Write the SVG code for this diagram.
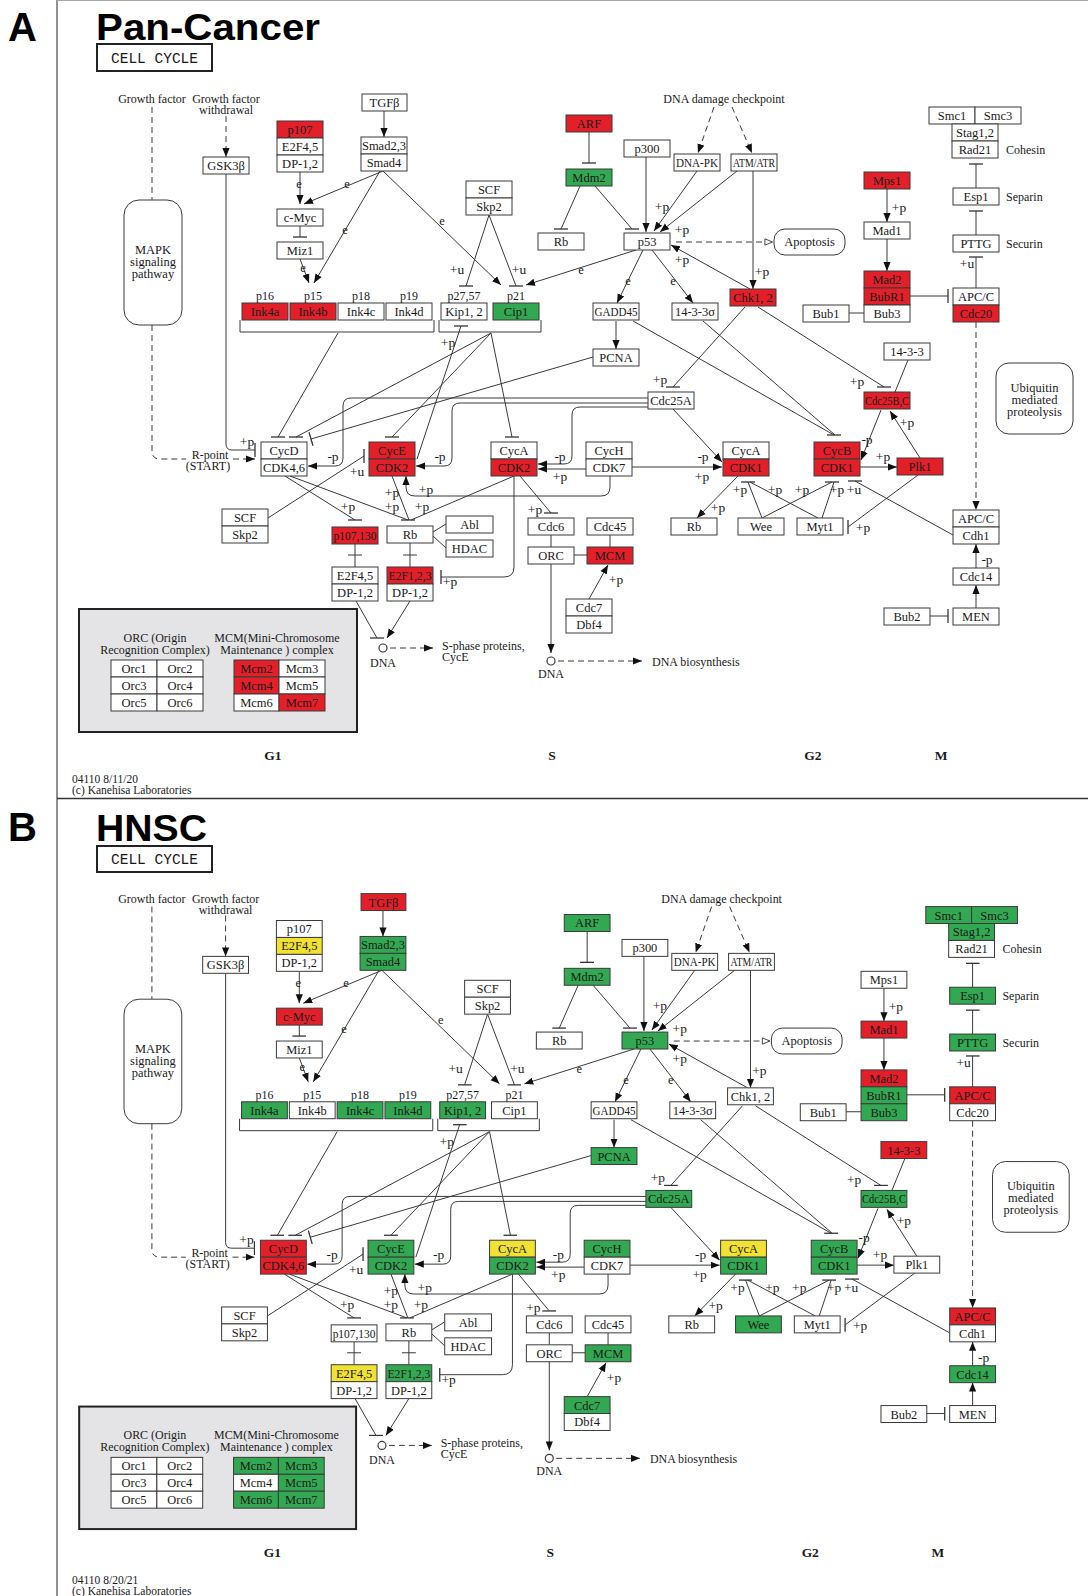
<svg xmlns="http://www.w3.org/2000/svg" xmlns:xlink="http://www.w3.org/1999/xlink" width="1088" height="1596" viewBox="0 0 1088 1596">
<defs>
<style>
.nd rect{fill:#fff;stroke:#3a3a3a;stroke-width:1}
.nd rect.r{fill:#e3202a}
.nd rect.g{fill:#33a852}
.nd rect.y{fill:#f1e232}
text{font-family:"Liberation Serif","Times New Roman",serif;fill:#1a1a1a}
.nd text{font-size:12.5px;text-anchor:middle}
.c{fill:none;stroke:#3a3a3a;stroke-width:1}
.dc{fill:#fff;stroke:#3a3a3a;stroke-width:1.2}
.d{stroke-dasharray:6 4}
.el{font-size:13.5px;text-anchor:middle}
.ee{font-size:12.5px;text-anchor:middle}
.lb{font-size:12px}
.mid{text-anchor:middle}
.ph{font-size:13.5px;font-weight:bold;text-anchor:middle}
.ft{font-size:11.5px}
.ttl{font-family:"Liberation Sans",Arial,sans-serif;font-weight:bold;fill:#000}
.cc{font-family:"Liberation Mono","Courier New",monospace;font-size:14.5px;text-anchor:middle}
.ccb{fill:none;stroke:#222;stroke-width:2}
.lg{fill:#e4e4e6;stroke:#222;stroke-width:2}
</style>
<marker id="ar" viewBox="0 0 10 10" refX="10" refY="5" markerWidth="9" markerHeight="9" markerUnits="userSpaceOnUse" orient="auto"><path d="M0,1L10,5L0,9z" fill="#111"/></marker>
<marker id="oa" viewBox="0 0 10 10" refX="10" refY="5" markerWidth="9" markerHeight="9" markerUnits="userSpaceOnUse" orient="auto"><path d="M1,1.5L9.5,5L1,8.5z" fill="#fff" stroke="#333"/></marker>
<marker id="th" viewBox="0 0 14 2" refX="7" refY="1" markerWidth="14" markerHeight="2" markerUnits="userSpaceOnUse" orient="0"><path d="M0,1H14" stroke="#333" stroke-width="1.3"/></marker>
<marker id="tv" viewBox="0 0 2 14" refX="1" refY="7" markerWidth="2" markerHeight="14" markerUnits="userSpaceOnUse" orient="0"><path d="M1,0V14" stroke="#333" stroke-width="1.3"/></marker>
<marker id="ta" viewBox="0 0 2 14" refX="1" refY="7" markerWidth="2" markerHeight="14" markerUnits="userSpaceOnUse" orient="auto"><path d="M1,0V14" stroke="#333" stroke-width="1.3"/></marker>
</defs>
<rect width="1088" height="1596" fill="#fff"/>
<g id="frame">
<path d="M57,0V1596" stroke="#555" stroke-width="1.3" fill="none"/>
<path d="M57,0.5H1088" stroke="#aaa" fill="none"/>
<path d="M57,798.5H1088" stroke="#333" stroke-width="1.5" fill="none"/>
</g>
<g id="titles">
<text class="ttl" x="8" y="41" font-size="40">A</text>
<text class="ttl" x="96" y="40" font-size="36" textLength="224" lengthAdjust="spacingAndGlyphs">Pan-Cancer</text>
<rect class="ccb" x="97" y="44" width="115" height="27"/>
<text class="cc" x="154.5" y="63">CELL CYCLE</text>
<text class="ttl" x="8" y="841" font-size="40">B</text>
<text class="ttl" x="96" y="841" font-size="36" textLength="111" lengthAdjust="spacingAndGlyphs">HNSC</text>
<rect class="ccb" x="97" y="846" width="115" height="26"/>
<text class="cc" x="154.5" y="864">CELL CYCLE</text>
<text class="ft" x="72" y="783">04110 8/11/20</text>
<text class="ft" x="72" y="794">(c) Kanehisa Laboratories</text>
<text class="ft" x="72" y="1584">04110 8/20/21</text>
<text class="ft" x="72" y="1595">(c) Kanehisa Laboratories</text>
</g>

<g id="panel-a">
<g id="a-labels">
<text class="lb mid" x="152" y="103">Growth factor</text>
<text class="lb mid" x="226" y="103">Growth factor</text>
<text class="lb mid" x="226" y="114">withdrawal</text>
<text class="lb mid" x="210" y="459">R-point</text>
<text class="lb mid" x="208" y="470">(START)</text>
<text class="lb mid" x="724" y="103">DNA damage checkpoint</text>
<text class="lb" x="1006" y="154">Cohesin</text>
<text class="lb" x="1006" y="201">Separin</text>
<text class="lb" x="1006" y="248">Securin</text>
<text class="lb mid" x="265" y="300">p16</text>
<text class="lb mid" x="313" y="300">p15</text>
<text class="lb mid" x="361" y="300">p18</text>
<text class="lb mid" x="409" y="300">p19</text>
<text class="lb mid" x="464" y="300">p27,57</text>
<text class="lb mid" x="516" y="300">p21</text>
<text class="lb mid" x="383" y="667">DNA</text>
<text class="lb" x="442" y="650">S-phase proteins,</text>
<text class="lb" x="442" y="661">CycE</text>
<text class="lb mid" x="551" y="678">DNA</text>
<text class="lb" x="652" y="666">DNA biosynthesis</text>
<text class="ph" x="273" y="760">G1</text>
<text class="ph" x="552" y="760">S</text>
<text class="ph" x="813" y="760">G2</text>
<text class="ph" x="941" y="760">M</text>
</g>
<g id="a-connectors">
<path class="c d" d="M152,107V200"/>
<path class="c d" d="M152,325V451Q152,459 160,459H186"/>
<path class="c d" d="M233,459H255" marker-end="url(#ar)"/>
<path class="c d" d="M226,116V157" marker-end="url(#ar)"/>
<path class="c" d="M226,174V444Q226,450 232,450H255" marker-end="url(#tv)"/>
<path class="c" d="M384,111V137" marker-end="url(#ar)"/>
<path class="c" d="M300,172V204" marker-end="url(#ar)"/>
<path class="c" d="M383,171L304,204" marker-end="url(#ar)"/>
<path class="c" d="M300,226V237" marker-end="url(#th)"/>
<path class="c" d="M300,259L309,283" marker-end="url(#ar)"/>
<path class="c" d="M380,171L314,283" marker-end="url(#ar)"/>
<path class="c" d="M383,171L501,285" marker-end="url(#ar)"/>
<path class="c" d="M489,215L466,286" marker-end="url(#th)"/>
<path class="c" d="M489,215L516,286" marker-end="url(#th)"/>
<path class="c" d="M636,250L526,285" marker-end="url(#ar)"/>
<path class="c" d="M589,132V163" marker-end="url(#th)"/>
<path class="c" d="M580,186L561,229" marker-end="url(#th)"/>
<path class="c" d="M595,186L632,229" marker-end="url(#th)"/>
<path class="c" d="M646,157V232" marker-end="url(#ar)"/>
<path class="c" d="M697,171L654,231" marker-end="url(#ar)"/>
<path class="c" d="M737,171L660,232" marker-end="url(#ar)"/>
<path class="c d" d="M714,107L698,153" marker-end="url(#ar)"/>
<path class="c d" d="M732,107L752,153" marker-end="url(#ar)"/>
<path class="c" d="M753,171V289" marker-end="url(#ar)"/>
<path class="c" d="M750,289L671,245" marker-end="url(#ar)"/>
<path class="c d" d="M676,242H773" marker-end="url(#oa)"/>
<path class="c" d="M643,250L617,303" marker-end="url(#ar)"/>
<path class="c" d="M652,250L693,303" marker-end="url(#ar)"/>
<path class="c" d="M887,189V222" marker-end="url(#ar)"/>
<path class="c" d="M887,239V271" marker-end="url(#ar)"/>
<path class="c" d="M849,313H864"/>
<path class="c" d="M910,296H948" marker-end="url(#tv)"/>
<path class="c" d="M976,188V164" marker-end="url(#th)"/>
<path class="c" d="M976,235V211" marker-end="url(#th)"/>
<path class="c" d="M976,288V257" marker-end="url(#th)"/>
<path class="c d" d="M976,322V510" marker-end="url(#ar)"/>
<path class="c" d="M976,568V544" marker-end="url(#ar)"/>
<path class="c" d="M976,608V585" marker-end="url(#ar)"/>
<path class="c" d="M930,616H948" marker-end="url(#tv)"/>
<path class="c" d="M953,535L855,481" marker-end="url(#th)"/>
<path class="c" d="M616,321V349" marker-end="url(#ar)"/>
<path class="c" d="M633,321L834,435" marker-end="url(#th)"/>
<path class="c" d="M703,321L835,435"/>
<path class="c" d="M745,307L673,387" marker-end="url(#th)"/>
<path class="c" d="M758,307L884,387" marker-end="url(#th)"/>
<path class="c" d="M908,360L895,392"/>
<path class="c" d="M920,458L890,411" marker-end="url(#ar)"/>
<path class="c" d="M881,410L861,460" marker-end="url(#ar)"/>
<path class="c" d="M860,467H897" marker-end="url(#ar)"/>
<path class="c" d="M918,475L848,527" marker-end="url(#tv)"/>
<path class="c" d="M762,518L748,482" marker-end="url(#th)"/>
<path class="c" d="M818,518L750,482"/>
<path class="c" d="M762,518L832,482" marker-end="url(#th)"/>
<path class="c" d="M822,518L834,482"/>
<path class="c" d="M738,476L697,518" marker-end="url(#ar)"/>
<path class="c" d="M673,409L722,462" marker-end="url(#ar)"/>
<path class="c" d="M632,467H722" marker-end="url(#ar)"/>
<path class="c" d="M586,469H538" marker-end="url(#ar)"/>
<path class="c" d="M648,407H580Q572,407 572,415V456Q572,464 564,464H538" marker-end="url(#ar)"/>
<path class="c" d="M648,403H460Q452,403 452,411V458Q452,466 444,466H416" marker-end="url(#ar)"/>
<path class="c" d="M648,398H351Q343,398 343,406V458Q343,466 335,466H308" marker-end="url(#ar)"/>
<path class="c" d="M610,476V487Q610,496 601,496H415Q406,496 406,487V476" marker-end="url(#ar)"/>
<path class="c" d="M417,459L461,326" marker-end="url(#th)"/>
<path class="c" d="M491,333L296,437" marker-end="url(#th)"/>
<path class="c" d="M338,333L278,437" marker-end="url(#th)"/>
<path class="c" d="M593,357L311,439" marker-end="url(#ta)"/>
<path class="c" d="M491,333L392,437" marker-end="url(#th)"/>
<path class="c" d="M491,333L512,437" marker-end="url(#th)"/>
<path class="c" d="M268,518L364,456" marker-end="url(#tv)"/>
<path class="c" d="M285,476L355,520" marker-end="url(#th)"/>
<path class="c" d="M290,476L408,520" marker-end="url(#th)"/>
<path class="c" d="M392,476L409,520"/>
<path class="c" d="M514,476L411,520"/>
<path class="c" d="M520,476L551,513" marker-end="url(#th)"/>
<path class="c" d="M514,476V567Q514,577 504,577H441" marker-end="url(#tv)"/>
<path class="c" d="M355,544V567M348,555H362"/>
<path class="c" d="M410,543V567M403,555H417"/>
<path class="c" d="M433,532L446,524M433,536L446,548"/>
<path class="c" d="M356,601L377,638" marker-end="url(#th)"/>
<path class="c" d="M410,601L387,638" marker-end="url(#ar)"/>
<circle class="dc" cx="383" cy="648" r="4"/>
<path class="c d" d="M390,648H433" marker-end="url(#ar)"/>
<path class="c" d="M551,535V547M574,555H587M610,535V547"/>
<path class="c" d="M589,599L608,565" marker-end="url(#ar)"/>
<path class="c" d="M551,563V653" marker-end="url(#ar)"/>
<circle class="dc" cx="551" cy="661" r="4"/>
<path class="c d" d="M558,661H642" marker-end="url(#ar)"/>
<path class="c" d="M240,320V332H434V320"/>
<path class="c" d="M439,320V332H541V320"/>
<text class="el" x="247" y="446">+p</text>
<text class="ee" x="299" y="188">e</text>
<text class="ee" x="347" y="188">e</text>
<text class="ee" x="303" y="272">e</text>
<text class="ee" x="345" y="234">e</text>
<text class="ee" x="442" y="225">e</text>
<text class="el" x="457" y="274">+u</text>
<text class="el" x="519" y="274">+u</text>
<text class="ee" x="581" y="274">e</text>
<text class="ee" x="628" y="285">e</text>
<text class="ee" x="673" y="285">e</text>
<text class="el" x="662" y="211">+p</text>
<text class="el" x="682" y="234">+p</text>
<text class="el" x="682" y="264">+p</text>
<text class="el" x="762" y="276">+p</text>
<text class="el" x="899" y="212">+p</text>
<text class="el" x="967" y="268">+u</text>
<text class="el" x="660" y="384">+p</text>
<text class="el" x="857" y="386">+p</text>
<text class="el" x="907" y="427">+p</text>
<text class="el" x="867" y="444">-p</text>
<text class="el" x="883" y="461">+p</text>
<text class="el" x="703" y="461">-p</text>
<text class="el" x="702" y="481">+p</text>
<text class="el" x="740" y="494">+p</text>
<text class="el" x="718" y="512">+p</text>
<text class="el" x="775" y="494">+p</text>
<text class="el" x="802" y="494">+p</text>
<text class="el" x="837" y="494">+p</text>
<text class="el" x="854" y="494">+u</text>
<text class="el" x="863" y="532">+p</text>
<text class="el" x="987" y="564">-p</text>
<text class="el" x="560" y="461">-p</text>
<text class="el" x="560" y="481">+p</text>
<text class="el" x="440" y="461">-p</text>
<text class="el" x="426" y="494">+p</text>
<text class="el" x="333" y="461">-p</text>
<text class="el" x="357" y="476">+u</text>
<text class="el" x="448" y="347">+p</text>
<text class="el" x="348" y="511">+p</text>
<text class="el" x="392" y="497">+p</text>
<text class="el" x="392" y="511">+p</text>
<text class="el" x="422" y="511">+p</text>
<text class="el" x="535" y="514">+p</text>
<text class="el" x="450" y="586">+p</text>
<text class="el" x="616" y="584">+p</text>
</g>
<g id="a-nodes">
<g id="a-mapk" class="nd"><rect x="124" y="200" width="58" height="125" rx="15"/><text x="153" y="254">MAPK</text><text x="153" y="266">signaling</text><text x="153" y="278">pathway</text></g>
<g id="a-gsk3b" class="nd"><rect x="203" y="157" width="46" height="17"/><text x="226" y="170">GSK3β</text></g>
<g id="a-p107" class="nd"><rect class="r" x="277" y="121" width="46" height="17"/><rect x="277" y="138" width="46" height="17"/><rect x="277" y="155" width="46" height="17"/><text x="300" y="134">p107</text><text x="300" y="151">E2F4,5</text><text x="300" y="168">DP-1,2</text></g>
<g id="a-cmyc" class="nd"><rect x="277" y="209" width="46" height="17"/><text x="300" y="222">c-Myc</text></g>
<g id="a-miz1" class="nd"><rect x="277" y="242" width="46" height="17"/><text x="300" y="255">Miz1</text></g>
<g id="a-tgfb" class="nd"><rect x="362" y="94" width="45" height="17"/><text x="384.5" y="107">TGFβ</text></g>
<g id="a-smad" class="nd"><rect x="361" y="137" width="46" height="17"/><rect x="361" y="154" width="46" height="17"/><text x="384" y="150">Smad2,3</text><text x="384" y="167">Smad4</text></g>
<g id="a-scf1" class="nd"><rect x="466" y="181" width="46" height="17"/><rect x="466" y="198" width="46" height="17"/><text x="489" y="194">SCF</text><text x="489" y="211">Skp2</text></g>
<g id="a-arf" class="nd"><rect class="r" x="566" y="115" width="46" height="17"/><text x="589" y="128">ARF</text></g>
<g id="a-mdm2" class="nd"><rect class="g" x="566" y="169" width="46" height="17"/><text x="589" y="182">Mdm2</text></g>
<g id="a-rb1" class="nd"><rect x="538" y="233" width="46" height="17"/><text x="561" y="246">Rb</text></g>
<g id="a-p300" class="nd"><rect x="624" y="140" width="46" height="17"/><text x="647" y="153">p300</text></g>
<g id="a-p53" class="nd"><rect x="624" y="233" width="46" height="17"/><text x="647" y="246">p53</text></g>
<g id="a-dnapk" class="nd"><rect x="674" y="154" width="46" height="17"/><text x="697" y="167" textLength="42" lengthAdjust="spacingAndGlyphs">DNA-PK</text></g>
<g id="a-atm" class="nd"><rect x="731" y="154" width="46" height="17"/><text x="754" y="167" textLength="42" lengthAdjust="spacingAndGlyphs">ATM/ATR</text></g>
<g id="a-apoptosis" class="nd"><rect x="774" y="229" width="71" height="26" rx="11"/><text x="809.5" y="246">Apoptosis</text></g>
<g id="a-mps1" class="nd"><rect class="r" x="864" y="172" width="46" height="17"/><text x="887" y="185">Mps1</text></g>
<g id="a-mad1" class="nd"><rect x="864" y="222" width="46" height="17"/><text x="887" y="235">Mad1</text></g>
<g id="a-mad2" class="nd"><rect class="r" x="864" y="271" width="46" height="17"/><rect class="r" x="864" y="288" width="46" height="17"/><rect x="864" y="305" width="46" height="17"/><text x="887" y="284">Mad2</text><text x="887" y="301">BubR1</text><text x="887" y="318">Bub3</text></g>
<g id="a-bub1" class="nd"><rect x="803" y="305" width="46" height="17"/><text x="826" y="318">Bub1</text></g>
<g id="a-cohesin" class="nd"><rect x="929" y="107" width="46" height="17"/><rect x="975" y="107" width="46" height="17"/><rect x="952" y="124" width="46" height="17"/><rect x="952" y="141" width="46" height="17"/><text x="952" y="120">Smc1</text><text x="998" y="120">Smc3</text><text x="975" y="137">Stag1,2</text><text x="975" y="154">Rad21</text></g>
<g id="a-esp1" class="nd"><rect x="953" y="188" width="46" height="17"/><text x="976" y="201">Esp1</text></g>
<g id="a-pttg" class="nd"><rect x="953" y="235" width="46" height="17"/><text x="976" y="248">PTTG</text></g>
<g id="a-apcc1" class="nd"><rect x="953" y="288" width="46" height="17"/><rect class="r" x="953" y="305" width="46" height="17"/><text x="976" y="301">APC/C</text><text x="976" y="318">Cdc20</text></g>
<g id="a-ink4a" class="nd"><rect class="r" x="242" y="303" width="46" height="17"/><text x="265" y="316">Ink4a</text></g>
<g id="a-ink4b" class="nd"><rect class="r" x="290" y="303" width="46" height="17"/><text x="313" y="316">Ink4b</text></g>
<g id="a-ink4c" class="nd"><rect x="338" y="303" width="46" height="17"/><text x="361" y="316">Ink4c</text></g>
<g id="a-ink4d" class="nd"><rect x="386" y="303" width="46" height="17"/><text x="409" y="316">Ink4d</text></g>
<g id="a-kip" class="nd"><rect x="441" y="303" width="46" height="17"/><text x="464" y="316">Kip1, 2</text></g>
<g id="a-cip1" class="nd"><rect class="g" x="493" y="303" width="46" height="17"/><text x="516" y="316">Cip1</text></g>
<g id="a-gadd45" class="nd"><rect x="593" y="303" width="46" height="17"/><text x="616" y="316" textLength="43" lengthAdjust="spacingAndGlyphs">GADD45</text></g>
<g id="a-1433s" class="nd"><rect x="672" y="303" width="46" height="17"/><text x="695" y="316">14-3-3σ</text></g>
<g id="a-chk" class="nd"><rect class="r" x="730" y="289" width="46" height="17"/><text x="753" y="302">Chk1, 2</text></g>
<g id="a-pcna" class="nd"><rect x="593" y="349" width="46" height="17"/><text x="616" y="362">PCNA</text></g>
<g id="a-cdc25a" class="nd"><rect x="648" y="392" width="46" height="17"/><text x="671" y="405">Cdc25A</text></g>
<g id="a-1433" class="nd"><rect x="884" y="343" width="46" height="17"/><text x="907" y="356">14-3-3</text></g>
<g id="a-cdc25bc" class="nd"><rect class="r" x="864" y="392" width="46" height="17"/><text x="887" y="405" textLength="44" lengthAdjust="spacingAndGlyphs">Cdc25B,C</text></g>
<g id="a-ubiq" class="nd"><rect x="996" y="363" width="77" height="71" rx="13"/><text x="1034.5" y="392">Ubiquitin</text><text x="1034.5" y="404">mediated</text><text x="1034.5" y="416">proteolysis</text></g>
<g id="a-cycd" class="nd"><rect x="261" y="442" width="46" height="17"/><rect x="261" y="459" width="46" height="17"/><text x="284" y="455">CycD</text><text x="284" y="472">CDK4,6</text></g>
<g id="a-cyce" class="nd"><rect class="r" x="369" y="442" width="46" height="17"/><rect class="r" x="369" y="459" width="46" height="17"/><text x="392" y="455">CycE</text><text x="392" y="472">CDK2</text></g>
<g id="a-cyca2" class="nd"><rect x="491" y="442" width="46" height="17"/><rect class="r" x="491" y="459" width="46" height="17"/><text x="514" y="455">CycA</text><text x="514" y="472">CDK2</text></g>
<g id="a-cych" class="nd"><rect x="586" y="442" width="46" height="17"/><rect x="586" y="459" width="46" height="17"/><text x="609" y="455">CycH</text><text x="609" y="472">CDK7</text></g>
<g id="a-cyca1" class="nd"><rect x="723" y="442" width="46" height="17"/><rect class="r" x="723" y="459" width="46" height="17"/><text x="746" y="455">CycA</text><text x="746" y="472">CDK1</text></g>
<g id="a-cycb" class="nd"><rect class="r" x="814" y="442" width="46" height="17"/><rect class="r" x="814" y="459" width="46" height="17"/><text x="837" y="455">CycB</text><text x="837" y="472">CDK1</text></g>
<g id="a-plk1" class="nd"><rect class="r" x="897" y="458" width="46" height="17"/><text x="920" y="471">Plk1</text></g>
<g id="a-rb3" class="nd"><rect x="671" y="518" width="46" height="17"/><text x="694" y="531">Rb</text></g>
<g id="a-wee" class="nd"><rect x="738" y="518" width="46" height="17"/><text x="761" y="531">Wee</text></g>
<g id="a-myt1" class="nd"><rect x="797" y="518" width="46" height="17"/><text x="820" y="531">Myt1</text></g>
<g id="a-apcc2" class="nd"><rect x="953" y="510" width="46" height="17"/><rect x="953" y="527" width="46" height="17"/><text x="976" y="523">APC/C</text><text x="976" y="540">Cdh1</text></g>
<g id="a-cdc14" class="nd"><rect x="953" y="568" width="46" height="17"/><text x="976" y="581">Cdc14</text></g>
<g id="a-men" class="nd"><rect x="953" y="608" width="46" height="17"/><text x="976" y="621">MEN</text></g>
<g id="a-bub2" class="nd"><rect x="884" y="608" width="46" height="17"/><text x="907" y="621">Bub2</text></g>
<g id="a-scf2" class="nd"><rect x="222" y="509" width="46" height="17"/><rect x="222" y="526" width="46" height="17"/><text x="245" y="522">SCF</text><text x="245" y="539">Skp2</text></g>
<g id="a-p107130" class="nd"><rect class="r" x="332" y="527" width="46" height="17"/><text x="355" y="540" textLength="43" lengthAdjust="spacingAndGlyphs">p107,130</text></g>
<g id="a-rb2" class="nd"><rect x="387" y="526" width="46" height="17"/><text x="410" y="539">Rb</text></g>
<g id="a-abl" class="nd"><rect x="446" y="516" width="47" height="17"/><text x="469.5" y="529">Abl</text></g>
<g id="a-hdac" class="nd"><rect x="446" y="540" width="47" height="17"/><text x="469.5" y="553">HDAC</text></g>
<g id="a-e2f45" class="nd"><rect x="332" y="567" width="46" height="17"/><rect x="332" y="584" width="46" height="17"/><text x="355" y="580">E2F4,5</text><text x="355" y="597">DP-1,2</text></g>
<g id="a-e2f123" class="nd"><rect class="r" x="387" y="567" width="46" height="17"/><rect x="387" y="584" width="46" height="17"/><text x="410" y="580" textLength="43" lengthAdjust="spacingAndGlyphs">E2F1,2,3</text><text x="410" y="597">DP-1,2</text></g>
<g id="a-cdc6" class="nd"><rect x="528" y="518" width="46" height="17"/><text x="551" y="531">Cdc6</text></g>
<g id="a-cdc45" class="nd"><rect x="587" y="518" width="46" height="17"/><text x="610" y="531">Cdc45</text></g>
<g id="a-orc" class="nd"><rect x="528" y="547" width="46" height="17"/><text x="551" y="560">ORC</text></g>
<g id="a-mcm" class="nd"><rect class="r" x="587" y="547" width="46" height="17"/><text x="610" y="560">MCM</text></g>
<g id="a-cdc7" class="nd"><rect x="566" y="599" width="46" height="17"/><rect x="566" y="616" width="46" height="17"/><text x="589" y="612">Cdc7</text><text x="589" y="629">Dbf4</text></g>
<g id="a-legend">
<rect class="lg" x="79" y="609" width="278" height="123"/>
<text class="lb mid" x="155" y="642">ORC (Origin</text>
<text class="lb mid" x="155" y="654">Recognition Complex)</text>
<text class="lb mid" x="277" y="642">MCM(Mini-Chromosome</text>
<text class="lb mid" x="277" y="654">Maintenance ) complex</text>
<g id="a-orc-complex" class="nd"><rect x="111" y="660" width="46" height="17"/><rect x="157" y="660" width="46" height="17"/><rect x="111" y="677" width="46" height="17"/><rect x="157" y="677" width="46" height="17"/><rect x="111" y="694" width="46" height="17"/><rect x="157" y="694" width="46" height="17"/><text x="134" y="673">Orc1</text><text x="180" y="673">Orc2</text><text x="134" y="690">Orc3</text><text x="180" y="690">Orc4</text><text x="134" y="707">Orc5</text><text x="180" y="707">Orc6</text></g>
<g id="a-mcm-complex" class="nd"><rect class="r" x="234" y="660" width="45" height="17"/><rect x="279" y="660" width="46" height="17"/><rect class="r" x="234" y="677" width="45" height="17"/><rect x="279" y="677" width="46" height="17"/><rect x="234" y="694" width="45" height="17"/><rect class="r" x="279" y="694" width="46" height="17"/><text x="256.5" y="673">Mcm2</text><text x="302" y="673">Mcm3</text><text x="256.5" y="690">Mcm4</text><text x="302" y="690">Mcm5</text><text x="256.5" y="707">Mcm6</text><text x="302" y="707">Mcm7</text></g>
</g>
</g>
</g>

<g id="panel-b" transform="translate(0.5,800) scale(0.996)">
<g id="b-labels">
<text class="lb mid" x="152" y="103">Growth factor</text>
<text class="lb mid" x="226" y="103">Growth factor</text>
<text class="lb mid" x="226" y="114">withdrawal</text>
<text class="lb mid" x="210" y="459">R-point</text>
<text class="lb mid" x="208" y="470">(START)</text>
<text class="lb mid" x="724" y="103">DNA damage checkpoint</text>
<text class="lb" x="1006" y="154">Cohesin</text>
<text class="lb" x="1006" y="201">Separin</text>
<text class="lb" x="1006" y="248">Securin</text>
<text class="lb mid" x="265" y="300">p16</text>
<text class="lb mid" x="313" y="300">p15</text>
<text class="lb mid" x="361" y="300">p18</text>
<text class="lb mid" x="409" y="300">p19</text>
<text class="lb mid" x="464" y="300">p27,57</text>
<text class="lb mid" x="516" y="300">p21</text>
<text class="lb mid" x="383" y="667">DNA</text>
<text class="lb" x="442" y="650">S-phase proteins,</text>
<text class="lb" x="442" y="661">CycE</text>
<text class="lb mid" x="551" y="678">DNA</text>
<text class="lb" x="652" y="666">DNA biosynthesis</text>
<text class="ph" x="273" y="760">G1</text>
<text class="ph" x="552" y="760">S</text>
<text class="ph" x="813" y="760">G2</text>
<text class="ph" x="941" y="760">M</text>
</g>
<g id="b-connectors"><use xlink:href="#a-connectors" href="#a-connectors"/></g>
<g id="b-nodes">
<g id="b-mapk" class="nd"><rect x="124" y="200" width="58" height="125" rx="15"/><text x="153" y="254">MAPK</text><text x="153" y="266">signaling</text><text x="153" y="278">pathway</text></g>
<g id="b-gsk3b" class="nd"><rect x="203" y="157" width="46" height="17"/><text x="226" y="170">GSK3β</text></g>
<g id="b-p107" class="nd"><rect x="277" y="121" width="46" height="17"/><rect class="y" x="277" y="138" width="46" height="17"/><rect x="277" y="155" width="46" height="17"/><text x="300" y="134">p107</text><text x="300" y="151">E2F4,5</text><text x="300" y="168">DP-1,2</text></g>
<g id="b-cmyc" class="nd"><rect class="r" x="277" y="209" width="46" height="17"/><text x="300" y="222">c-Myc</text></g>
<g id="b-miz1" class="nd"><rect x="277" y="242" width="46" height="17"/><text x="300" y="255">Miz1</text></g>
<g id="b-tgfb" class="nd"><rect class="r" x="362" y="94" width="45" height="17"/><text x="384.5" y="107">TGFβ</text></g>
<g id="b-smad" class="nd"><rect class="g" x="361" y="137" width="46" height="17"/><rect class="g" x="361" y="154" width="46" height="17"/><text x="384" y="150">Smad2,3</text><text x="384" y="167">Smad4</text></g>
<g id="b-scf1" class="nd"><rect x="466" y="181" width="46" height="17"/><rect x="466" y="198" width="46" height="17"/><text x="489" y="194">SCF</text><text x="489" y="211">Skp2</text></g>
<g id="b-arf" class="nd"><rect class="g" x="566" y="115" width="46" height="17"/><text x="589" y="128">ARF</text></g>
<g id="b-mdm2" class="nd"><rect class="g" x="566" y="169" width="46" height="17"/><text x="589" y="182">Mdm2</text></g>
<g id="b-rb1" class="nd"><rect x="538" y="233" width="46" height="17"/><text x="561" y="246">Rb</text></g>
<g id="b-p300" class="nd"><rect x="624" y="140" width="46" height="17"/><text x="647" y="153">p300</text></g>
<g id="b-p53" class="nd"><rect class="g" x="624" y="233" width="46" height="17"/><text x="647" y="246">p53</text></g>
<g id="b-dnapk" class="nd"><rect x="674" y="154" width="46" height="17"/><text x="697" y="167" textLength="42" lengthAdjust="spacingAndGlyphs">DNA-PK</text></g>
<g id="b-atm" class="nd"><rect x="731" y="154" width="46" height="17"/><text x="754" y="167" textLength="42" lengthAdjust="spacingAndGlyphs">ATM/ATR</text></g>
<g id="b-apoptosis" class="nd"><rect x="774" y="229" width="71" height="26" rx="11"/><text x="809.5" y="246">Apoptosis</text></g>
<g id="b-mps1" class="nd"><rect x="864" y="172" width="46" height="17"/><text x="887" y="185">Mps1</text></g>
<g id="b-mad1" class="nd"><rect class="r" x="864" y="222" width="46" height="17"/><text x="887" y="235">Mad1</text></g>
<g id="b-mad2" class="nd"><rect class="r" x="864" y="271" width="46" height="17"/><rect class="g" x="864" y="288" width="46" height="17"/><rect class="g" x="864" y="305" width="46" height="17"/><text x="887" y="284">Mad2</text><text x="887" y="301">BubR1</text><text x="887" y="318">Bub3</text></g>
<g id="b-bub1" class="nd"><rect x="803" y="305" width="46" height="17"/><text x="826" y="318">Bub1</text></g>
<g id="b-cohesin" class="nd"><rect class="g" x="929" y="107" width="46" height="17"/><rect class="g" x="975" y="107" width="46" height="17"/><rect class="g" x="952" y="124" width="46" height="17"/><rect x="952" y="141" width="46" height="17"/><text x="952" y="120">Smc1</text><text x="998" y="120">Smc3</text><text x="975" y="137">Stag1,2</text><text x="975" y="154">Rad21</text></g>
<g id="b-esp1" class="nd"><rect class="g" x="953" y="188" width="46" height="17"/><text x="976" y="201">Esp1</text></g>
<g id="b-pttg" class="nd"><rect class="g" x="953" y="235" width="46" height="17"/><text x="976" y="248">PTTG</text></g>
<g id="b-apcc1" class="nd"><rect class="r" x="953" y="288" width="46" height="17"/><rect x="953" y="305" width="46" height="17"/><text x="976" y="301">APC/C</text><text x="976" y="318">Cdc20</text></g>
<g id="b-ink4a" class="nd"><rect class="g" x="242" y="303" width="46" height="17"/><text x="265" y="316">Ink4a</text></g>
<g id="b-ink4b" class="nd"><rect x="290" y="303" width="46" height="17"/><text x="313" y="316">Ink4b</text></g>
<g id="b-ink4c" class="nd"><rect class="g" x="338" y="303" width="46" height="17"/><text x="361" y="316">Ink4c</text></g>
<g id="b-ink4d" class="nd"><rect class="g" x="386" y="303" width="46" height="17"/><text x="409" y="316">Ink4d</text></g>
<g id="b-kip" class="nd"><rect class="g" x="441" y="303" width="46" height="17"/><text x="464" y="316">Kip1, 2</text></g>
<g id="b-cip1" class="nd"><rect x="493" y="303" width="46" height="17"/><text x="516" y="316">Cip1</text></g>
<g id="b-gadd45" class="nd"><rect x="593" y="303" width="46" height="17"/><text x="616" y="316" textLength="43" lengthAdjust="spacingAndGlyphs">GADD45</text></g>
<g id="b-1433s" class="nd"><rect x="672" y="303" width="46" height="17"/><text x="695" y="316">14-3-3σ</text></g>
<g id="b-chk" class="nd"><rect x="730" y="289" width="46" height="17"/><text x="753" y="302">Chk1, 2</text></g>
<g id="b-pcna" class="nd"><rect class="g" x="593" y="349" width="46" height="17"/><text x="616" y="362">PCNA</text></g>
<g id="b-cdc25a" class="nd"><rect class="g" x="648" y="392" width="46" height="17"/><text x="671" y="405">Cdc25A</text></g>
<g id="b-1433" class="nd"><rect class="r" x="884" y="343" width="46" height="17"/><text x="907" y="356">14-3-3</text></g>
<g id="b-cdc25bc" class="nd"><rect class="g" x="864" y="392" width="46" height="17"/><text x="887" y="405" textLength="44" lengthAdjust="spacingAndGlyphs">Cdc25B,C</text></g>
<g id="b-ubiq" class="nd"><rect x="996" y="363" width="77" height="71" rx="13"/><text x="1034.5" y="392">Ubiquitin</text><text x="1034.5" y="404">mediated</text><text x="1034.5" y="416">proteolysis</text></g>
<g id="b-cycd" class="nd"><rect class="r" x="261" y="442" width="46" height="17"/><rect class="r" x="261" y="459" width="46" height="17"/><text x="284" y="455">CycD</text><text x="284" y="472">CDK4,6</text></g>
<g id="b-cyce" class="nd"><rect class="g" x="369" y="442" width="46" height="17"/><rect class="g" x="369" y="459" width="46" height="17"/><text x="392" y="455">CycE</text><text x="392" y="472">CDK2</text></g>
<g id="b-cyca2" class="nd"><rect class="y" x="491" y="442" width="46" height="17"/><rect class="g" x="491" y="459" width="46" height="17"/><text x="514" y="455">CycA</text><text x="514" y="472">CDK2</text></g>
<g id="b-cych" class="nd"><rect class="g" x="586" y="442" width="46" height="17"/><rect x="586" y="459" width="46" height="17"/><text x="609" y="455">CycH</text><text x="609" y="472">CDK7</text></g>
<g id="b-cyca1" class="nd"><rect class="y" x="723" y="442" width="46" height="17"/><rect class="g" x="723" y="459" width="46" height="17"/><text x="746" y="455">CycA</text><text x="746" y="472">CDK1</text></g>
<g id="b-cycb" class="nd"><rect class="g" x="814" y="442" width="46" height="17"/><rect class="g" x="814" y="459" width="46" height="17"/><text x="837" y="455">CycB</text><text x="837" y="472">CDK1</text></g>
<g id="b-plk1" class="nd"><rect x="897" y="458" width="46" height="17"/><text x="920" y="471">Plk1</text></g>
<g id="b-rb3" class="nd"><rect x="671" y="518" width="46" height="17"/><text x="694" y="531">Rb</text></g>
<g id="b-wee" class="nd"><rect class="g" x="738" y="518" width="46" height="17"/><text x="761" y="531">Wee</text></g>
<g id="b-myt1" class="nd"><rect x="797" y="518" width="46" height="17"/><text x="820" y="531">Myt1</text></g>
<g id="b-apcc2" class="nd"><rect class="r" x="953" y="510" width="46" height="17"/><rect x="953" y="527" width="46" height="17"/><text x="976" y="523">APC/C</text><text x="976" y="540">Cdh1</text></g>
<g id="b-cdc14" class="nd"><rect class="g" x="953" y="568" width="46" height="17"/><text x="976" y="581">Cdc14</text></g>
<g id="b-men" class="nd"><rect x="953" y="608" width="46" height="17"/><text x="976" y="621">MEN</text></g>
<g id="b-bub2" class="nd"><rect x="884" y="608" width="46" height="17"/><text x="907" y="621">Bub2</text></g>
<g id="b-scf2" class="nd"><rect x="222" y="509" width="46" height="17"/><rect x="222" y="526" width="46" height="17"/><text x="245" y="522">SCF</text><text x="245" y="539">Skp2</text></g>
<g id="b-p107130" class="nd"><rect x="332" y="527" width="46" height="17"/><text x="355" y="540" textLength="43" lengthAdjust="spacingAndGlyphs">p107,130</text></g>
<g id="b-rb2" class="nd"><rect x="387" y="526" width="46" height="17"/><text x="410" y="539">Rb</text></g>
<g id="b-abl" class="nd"><rect x="446" y="516" width="47" height="17"/><text x="469.5" y="529">Abl</text></g>
<g id="b-hdac" class="nd"><rect x="446" y="540" width="47" height="17"/><text x="469.5" y="553">HDAC</text></g>
<g id="b-e2f45" class="nd"><rect class="y" x="332" y="567" width="46" height="17"/><rect x="332" y="584" width="46" height="17"/><text x="355" y="580">E2F4,5</text><text x="355" y="597">DP-1,2</text></g>
<g id="b-e2f123" class="nd"><rect class="g" x="387" y="567" width="46" height="17"/><rect x="387" y="584" width="46" height="17"/><text x="410" y="580" textLength="43" lengthAdjust="spacingAndGlyphs">E2F1,2,3</text><text x="410" y="597">DP-1,2</text></g>
<g id="b-cdc6" class="nd"><rect x="528" y="518" width="46" height="17"/><text x="551" y="531">Cdc6</text></g>
<g id="b-cdc45" class="nd"><rect x="587" y="518" width="46" height="17"/><text x="610" y="531">Cdc45</text></g>
<g id="b-orc" class="nd"><rect x="528" y="547" width="46" height="17"/><text x="551" y="560">ORC</text></g>
<g id="b-mcm" class="nd"><rect class="g" x="587" y="547" width="46" height="17"/><text x="610" y="560">MCM</text></g>
<g id="b-cdc7" class="nd"><rect class="g" x="566" y="599" width="46" height="17"/><rect x="566" y="616" width="46" height="17"/><text x="589" y="612">Cdc7</text><text x="589" y="629">Dbf4</text></g>
<g id="b-legend">
<rect class="lg" x="79" y="609" width="278" height="123"/>
<text class="lb mid" x="155" y="642">ORC (Origin</text>
<text class="lb mid" x="155" y="654">Recognition Complex)</text>
<text class="lb mid" x="277" y="642">MCM(Mini-Chromosome</text>
<text class="lb mid" x="277" y="654">Maintenance ) complex</text>
<g id="b-orc-complex" class="nd"><rect x="111" y="660" width="46" height="17"/><rect x="157" y="660" width="46" height="17"/><rect x="111" y="677" width="46" height="17"/><rect x="157" y="677" width="46" height="17"/><rect x="111" y="694" width="46" height="17"/><rect x="157" y="694" width="46" height="17"/><text x="134" y="673">Orc1</text><text x="180" y="673">Orc2</text><text x="134" y="690">Orc3</text><text x="180" y="690">Orc4</text><text x="134" y="707">Orc5</text><text x="180" y="707">Orc6</text></g>
<g id="b-mcm-complex" class="nd"><rect class="g" x="234" y="660" width="45" height="17"/><rect class="g" x="279" y="660" width="46" height="17"/><rect x="234" y="677" width="45" height="17"/><rect class="g" x="279" y="677" width="46" height="17"/><rect class="g" x="234" y="694" width="45" height="17"/><rect class="g" x="279" y="694" width="46" height="17"/><text x="256.5" y="673">Mcm2</text><text x="302" y="673">Mcm3</text><text x="256.5" y="690">Mcm4</text><text x="302" y="690">Mcm5</text><text x="256.5" y="707">Mcm6</text><text x="302" y="707">Mcm7</text></g>
</g>
</g>
</g>
</svg>
